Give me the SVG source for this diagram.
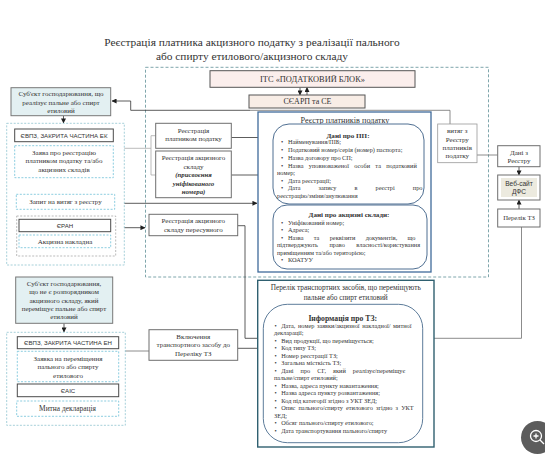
<svg xmlns="http://www.w3.org/2000/svg" width="545" height="472" viewBox="0 0 545 472">
<defs>
<marker id="ah" viewBox="0 0 6 6" refX="5.5" refY="3" markerWidth="5" markerHeight="5" markerUnits="userSpaceOnUse" orient="auto"><path d="M0 0L6 3L0 6z" fill="#1f1f1f"/></marker>
</defs>
<style>
text{font-family:"Liberation Serif","Times New Roman",serif;fill:#333;font-size:7px}
.c{text-anchor:middle}
.p{font-size:6.3px}
.s{font-family:"Liberation Sans",Arial,sans-serif;font-size:6.1px;text-anchor:middle}
.t{font-size:11.4px;text-anchor:middle}
.h{font-size:7.3px;text-anchor:middle}
.b{font-size:7.1px;font-weight:bold;text-anchor:middle}
.bi{font-weight:bold;font-style:italic;text-anchor:middle;font-size:6.8px}
.box{fill:#fff;stroke:#6e6e6e;stroke-width:1}
.dark{fill:#fff;stroke:#4a4a4a;stroke-width:1}
.dc{fill:#fff;stroke:#6fc0d8;stroke-width:.8;stroke-dasharray:2 1.5}
.dg{fill:none;stroke:#8fc4cf;stroke-width:.8;stroke-dasharray:2 1.5}
.subj{fill:#e3f0f2;stroke:#777;stroke-width:1}
.pink{fill:#fbeeec;stroke:#555;stroke-width:1}
.round{fill:#fff;stroke:#4f6f92;stroke-width:1}
.l{fill:none;stroke:#6f6f6f;stroke-width:.8}
.k{fill:none;stroke:#333;stroke-width:.8}
</style>
<rect width="545" height="472" fill="#fff"/>
<g id="title">
<text class="t" x="252" y="46">Реєстрація платника акцизного податку з реалізації пального</text>
<text class="t" x="252" y="59.5">або спирту етилового/акцизного складу</text>
</g>
<rect id="frame-main" x="145.5" y="67.3" width="343" height="209.7" fill="none" stroke="#7fa6ac" stroke-width="1" stroke-dasharray="3 2"/>
<g id="connectors">
<path class="k" d="M250 110.3H130.7V101H112" marker-end="url(#ah)"/>
<path class="l" d="M250 110.3H450V124"/>
<path class="k" d="M63.5 115.7V123" marker-end="url(#ah)"/>
<path class="l" d="M124.3 148.3H151M155.7 135.7H151V175H155.7" style="stroke:#aaa"/>
<path class="k" d="M231.3 137.5H263.3V155.7H273" marker-end="url(#ah)"/>
<path class="k" d="M231.3 175H263V238.3H273" marker-end="url(#ah)"/>
<path class="k" d="M124.3 203.3H257" marker-end="url(#ah)"/>
<path class="k" d="M124.3 227.7H145" marker-end="url(#ah)"/>
<path class="k" d="M237.7 225.7H245V338.3H263" marker-end="url(#ah)"/>
<path class="k" d="M64 323.3V332" marker-end="url(#ah)"/>
<path class="l" d="M125.3 351H149"/>
<path class="k" d="M237.7 348.3H263" marker-end="url(#ah)"/>
<path class="l" d="M422.7 338.3H521.5V227"/>
<path class="l" d="M477 155H497.7"/>
<path class="k" d="M300 87.5V95" marker-end="url(#ah)"/>
<path class="k" d="M307 95V87.5" marker-end="url(#ah)"/>
<path class="k" d="M519 166.7V175" marker-end="url(#ah)"/>
<path class="k" d="M519 209V200" marker-end="url(#ah)"/>
</g>
<g id="node-itc"><rect class="pink" x="210" y="70.7" width="205" height="16.6"/><text class="h" x="312.5" y="81.7" style="font-size:8.4px">ІТС «ПОДАТКОВИЙ БЛОК»</text></g>
<g id="node-sevrp"><rect class="pink" x="249" y="95" width="116" height="13" style="fill:#f8ede6"/><text class="h" x="307.5" y="104.3" style="font-size:8px">СЄАРП та СЕ</text></g>
<g id="node-registry">
<rect x="258" y="112" width="173" height="160" fill="#fff" stroke="#3f6a9a" stroke-width="1.3"/>
<text class="h" x="345" y="122.5" style="font-size:8.2px">Реєстр платників податку</text>
</g>
<g id="node-pp">
<rect class="round" x="273" y="124" width="151" height="80" rx="16"/>
<text class="b" x="348" y="137.5">Дані про ПП:</text>
<text class="p" y="144.2"><tspan x="281">•</tspan><tspan x="288">Найменування/ПІБ;</tspan></text>
<text class="p" y="152.2"><tspan x="281">•</tspan><tspan x="288">Податковий номер/серія (номер) паспорта;</tspan></text>
<text class="p" y="160"><tspan x="281">•</tspan><tspan x="288">Назва договору про СП;</tspan></text>
<text class="p" y="167.6"><tspan x="281">•</tspan><tspan x="288" word-spacing="3.7">Назва уповноваженої особи та податковий</tspan></text>
<text class="p" x="277" y="175">номер;</text>
<text class="p" y="182.6"><tspan x="281">•</tspan><tspan x="288">Дата реєстрації;</tspan></text>
<text class="p" y="190.2"><tspan x="281">•</tspan><tspan x="288" word-spacing="16.5">Дата запису в реєстрі про</tspan></text>
<text class="p" x="277" y="197.6">реєстрацію/зміни/анулювання</text>
</g>
<g id="node-sklady">
<rect class="round" x="273" y="205" width="154" height="64" rx="14"/>
<text class="b" x="349" y="217.3">Дані про акцизні склади:</text>
<text class="p" y="224.6"><tspan x="281">•</tspan><tspan x="288">Уніфікований номер;</tspan></text>
<text class="p" y="232.2"><tspan x="281">•</tspan><tspan x="288">Адреса;</tspan></text>
<text class="p" y="240"><tspan x="281">•</tspan><tspan x="288" word-spacing="8.7">Назва та реквізити документів, що</tspan></text>
<text class="p" x="277" y="247.3" word-spacing="10">підтверджують право власності/користування</text>
<text class="p" x="277" y="254.6">приміщенням та/або територією;</text>
<text class="p" y="262"><tspan x="281">•</tspan><tspan x="288">КОАТУУ</tspan></text>
</g>
<g id="node-vytiah">
<rect x="437.7" y="124" width="39.3" height="38.7" fill="#fff" stroke="#999" stroke-width=".8"/>
<text class="c" x="457.3" y="133">витяг з</text><text class="c" x="457.3" y="141.6">Реєстру</text><text class="c" x="457.3" y="150">платників</text><text class="c" x="457.3" y="158">податку</text>
</g>
<g id="node-dani"><rect class="box" x="497.7" y="145.7" width="42.3" height="21"/><text class="c" x="519" y="154.5">Дані з</text><text class="c" x="519" y="163">Реєстру</text></g>
<g id="node-web"><rect class="box" x="497.7" y="175" width="42.3" height="25"/><rect x="501" y="178" width="36" height="19" fill="#eceadf"/><text class="s" x="519" y="185.5" style="font-size:6.6px">Веб-сайт</text><text class="s" x="519" y="194" style="font-size:6.6px">ДФС</text></g>
<g id="node-perelik"><rect class="box" x="497.7" y="209" width="42.3" height="18"/><text class="c" x="519" y="220" style="font-size:6.7px">Перелік ТЗ</text></g>
<g id="node-subj1">
<rect class="subj" x="11" y="87.7" width="99.7" height="28"/>
<text class="c" x="61" y="96.3">Суб'єкт господарювання, що</text><text class="c" x="61" y="104.5">реалізує пальне або спирт</text><text class="c" x="61" y="113">етиловий</text>
</g>
<rect id="frame-left1" class="dg" x="6.7" y="123.3" width="117.6" height="141.7"/>
<g id="node-evpz1"><rect class="dark" x="14.7" y="129" width="98.6" height="12.7"/><text class="s" x="64" y="137.5">ЄВПЗ, ЗАКРИТА ЧАСТИНА ЕК</text></g>
<g id="node-zaiava"><rect class="dc" x="14.7" y="145.7" width="98.6" height="32"/>
<text class="c" x="64" y="155">Заява про реєстрацію</text><text class="c" x="64" y="163.3">платником податку та/або</text><text class="c" x="64" y="172">акцизних складів</text></g>
<g id="node-zapyt"><rect class="dc" x="16.3" y="194.3" width="98.4" height="15"/><text class="c" x="65.5" y="204">Запит на витяг з реєстру</text></g>
<rect id="frame-left2" class="dg" x="16.7" y="216" width="99" height="40" style="stroke:#aaa"/>
<g id="node-eran"><rect class="dark" x="19" y="219.3" width="91.7" height="12.4"/><text class="s" x="65" y="227.8">ЄРАН</text></g>
<g id="node-nakl"><rect class="dc" x="19" y="235" width="91.7" height="12.7"/><text class="c" x="65" y="243.8">Акцизна накладна</text></g>
<g id="node-reg1"><rect class="box" x="155.7" y="123.3" width="75.6" height="25"/><text class="c" x="193.5" y="132.6">Реєстрація</text><text class="c" x="193.5" y="141">платником податку</text></g>
<g id="node-reg2"><rect class="box" x="155.7" y="151" width="75.6" height="46.7"/>
<text class="c" x="193.5" y="160.3">Реєстрація акцизного</text><text class="c" x="193.5" y="168.6">складу</text><text class="bi" x="193.5" y="177.3">(присвоєння</text><text class="bi" x="193.5" y="185.6">уніфікованого</text><text class="bi" x="193.5" y="194">номера)</text></g>
<g id="node-reg3"><rect class="box" x="149" y="214.3" width="88.7" height="21.4"/><text class="c" x="193.3" y="223.3">Реєстрація акцизного</text><text class="c" x="193.3" y="232">складу пересувного</text></g>
<g id="node-subj2">
<rect class="subj" x="15.7" y="277" width="97" height="46.3"/>
<text class="c" x="64" y="286">Суб'єкт господарювання,</text><text class="c" x="64" y="294.3">що не є розпорядником</text><text class="c" x="64" y="302.6">акцизного складу, який</text><text class="c" x="64" y="311">переміщує пальне або спирт</text><text class="c" x="64" y="319.3">етиловий</text>
</g>
<rect id="frame-left3" class="dg" x="6.7" y="332.3" width="118.6" height="93"/>
<g id="node-evpz2"><rect class="dark" x="17.3" y="336.7" width="101.4" height="12"/><text class="s" x="68" y="344.9">ЄВПЗ, ЗАКРИТА ЧАСТИНА ЕН</text></g>
<g id="node-zaiavka"><rect class="dc" x="17.3" y="351.3" width="101.4" height="30.4"/>
<text class="c" x="68" y="360.6">Заявка на переміщення</text><text class="c" x="68" y="369">пального або спирту</text><text class="c" x="68" y="377.6">етилового</text></g>
<g id="node-eais"><rect class="dark" x="17.3" y="384" width="101.4" height="12.7"/><text class="s" x="68" y="392.5">ЄАІС</text></g>
<g id="node-mytna"><rect class="dc" x="16.7" y="401" width="102" height="15.3"/><text class="c" x="67.5" y="411.2" style="font-size:7.4px">Митна декларація</text></g>
<g id="node-vkl"><rect class="box" x="149" y="329.7" width="88.7" height="30.6"/><text class="c" x="193.3" y="338.6">Включення</text><text class="c" x="193.3" y="347.3">транспортного засобу до</text><text class="c" x="193.3" y="355.6">Переліку ТЗ</text></g>
<g id="node-perelik-tz">
<rect x="257.7" y="280.3" width="176.3" height="166.7" fill="#fff" stroke="#2f6070" stroke-width="1.4"/>
<text class="h" x="345.7" y="290.3">Перелік транспортних засобів, що переміщують</text>
<text class="h" x="345.7" y="299.7">пальне або спирт етиловий</text>
</g>
<g id="node-info">
<rect class="round" x="263.3" y="304.3" width="159.4" height="138.4" rx="24" style="stroke:#5d7c9a"/>
<text class="b" x="342.7" y="320.5" style="font-size:7.7px">Інформація про ТЗ:</text>
<text class="p" y="328"><tspan x="274.5">•</tspan><tspan x="281.3" word-spacing="1">Дата, номер заявки/акцизної накладної/ митної</tspan></text>
<text class="p" x="274" y="335.3">декларації;</text>
<text class="p" y="342.7"><tspan x="274.5">•</tspan><tspan x="281.3">Вид продукції, що переміщується;</tspan></text>
<text class="p" y="350.3"><tspan x="274.5">•</tspan><tspan x="281.3">Код типу ТЗ;</tspan></text>
<text class="p" y="357.7"><tspan x="274.5">•</tspan><tspan x="281.3">Номер реєстрації ТЗ;</tspan></text>
<text class="p" y="365.3"><tspan x="274.5">•</tspan><tspan x="281.3">Загальна місткість ТЗ;</tspan></text>
<text class="p" y="373.3"><tspan x="274.5">•</tspan><tspan x="281.3" word-spacing="5.5">Дані про СГ, який реалізує/переміщує</tspan></text>
<text class="p" x="274" y="380.3">пальне/спирт етиловий;</text>
<text class="p" y="387.7"><tspan x="274.5">•</tspan><tspan x="281.3">Назва, адреса пункту навантаження;</tspan></text>
<text class="p" y="395"><tspan x="274.5">•</tspan><tspan x="281.3">Назва адреса пункту розвантаження;</tspan></text>
<text class="p" y="402.7"><tspan x="274.5">•</tspan><tspan x="281.3">Код під категорії згідно з УКТ ЗЕД;</tspan></text>
<text class="p" y="410.3"><tspan x="274.5">•</tspan><tspan x="281.3" word-spacing="1.5">Опис пального/спирту етилового згідно з УКТ</tspan></text>
<text class="p" x="274" y="417.7">ЗЕД;</text>
<text class="p" y="425.3"><tspan x="274.5">•</tspan><tspan x="281.3">Обсяг пального/спирту етилового;</tspan></text>
<text class="p" y="432.7"><tspan x="274.5">•</tspan><tspan x="281.3">Дата транспортування пального/спирту</tspan></text>
</g>
<g id="zoom-button">
<circle cx="537.5" cy="437.5" r="16.5" fill="#5c5c5c"/>
<circle cx="536" cy="436" r="5.5" fill="none" stroke="#fff" stroke-width="1.3"/>
<path d="M533.5 436H538.5M536 433.5V438.5M540 440L544 444" fill="none" stroke="#fff" stroke-width="1.3"/>
</g>
</svg>
